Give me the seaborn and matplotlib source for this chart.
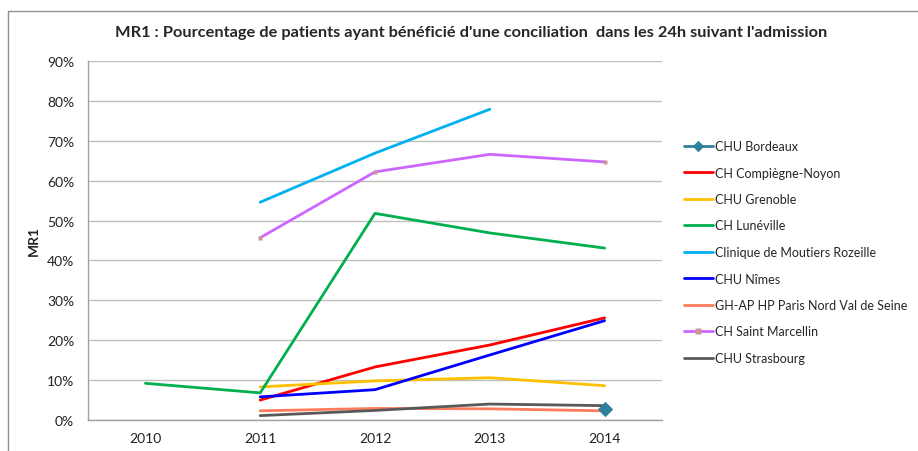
import numpy as np
import pandas as pd
import matplotlib
matplotlib.use("Agg")
from matplotlib import pyplot as plt
from matplotlib.ticker import PercentFormatter
from matplotlib.lines import Line2D
import seaborn as sns

years = ["2010", "2011", "2012", "2013", "2014"]

bordeaux = [np.nan, np.nan, np.nan, np.nan, 0.028]
compiegne = [np.nan, 0.050, 0.133, 0.188, 0.256]
grenoble = [np.nan, 0.083, 0.098, 0.106, 0.086]
luneville = [0.092, 0.068, 0.518, 0.469, 0.431]
moutiers = [np.nan, 0.546, 0.669, 0.779, np.nan]
nimes = [np.nan, 0.058, 0.076, 0.163, 0.249]
paris_nord = [np.nan, 0.023, 0.029, 0.028, 0.023]
marcellin = [np.nan, 0.457, 0.622, 0.666, 0.647]
strasbourg = [np.nan, 0.011, 0.024, 0.040, 0.036]

names = ["CHU Bordeaux", "CH Compiègne-Noyon", "CHU Grenoble", "CH Lunéville",
         "Clinique de Moutiers Rozeille", "CHU Nîmes",
         "GH-AP HP Paris Nord Val de Seine", "CH Saint Marcellin", "CHU Strasbourg"]
series = [bordeaux, compiegne, grenoble, luneville, moutiers, nimes,
          paris_nord, marcellin, strasbourg]
colors = ["#31809A", "#FF0000", "#FFC000", "#00B050", "#00B0F0", "#0000FF",
          "#FF7C5C", "#CC66FF", "#595959"]

sns.set_theme(style="white")
plt.rcParams["font.family"] = ["Lato", "DejaVu Sans"]

fig = plt.figure(figsize=(9.18, 4.52), dpi=100)
ax = fig.add_axes([88 / 918, 1 - 421 / 452, (662 - 88) / 918, (421 - 62) / 452])

for name, vals, col in zip(names, series, colors):
    df = pd.DataFrame({"year": np.arange(len(years)), "value": vals}).dropna()
    kw = dict(color=col, linewidth=2.0, label=name)
    if name == "CHU Bordeaux":
        kw.update(marker="D", markersize=7, markeredgecolor=col, zorder=10)
    elif name == "CH Saint Marcellin":
        kw.update(marker="s", markersize=3.5, markerfacecolor="#C8969A",
                  markeredgecolor="none", markevery=[0, 1, 3])
    sns.lineplot(data=df, x="year", y="value", ax=ax, **kw)

ax.set_xlim(-0.5, 4.5)
ax.set_ylim(0, 0.9)
ax.set_xticks(range(len(years)))
ax.set_xticklabels(years)
ax.set_yticks(np.arange(0, 0.91, 0.1))
ax.yaxis.set_major_formatter(PercentFormatter(1.0, decimals=0))
ax.tick_params(axis="both", length=0, labelsize=10, colors="#222222")
ax.tick_params(axis="y", pad=10)
ax.tick_params(axis="x", pad=9)
ax.grid(axis="y", color="#BFBFBF", linewidth=1)
ax.set_axisbelow(True)
for s in ["top", "right"]:
    ax.spines[s].set_visible(False)
for s in ["left", "bottom"]:
    ax.spines[s].set_color("#A0A0A0")
    ax.spines[s].set_linewidth(1)
ax.set_xlabel("")
ax.set_ylabel("MR1", fontsize=10, fontweight="bold", labelpad=5)

leg = ax.legend(loc="upper left", bbox_to_anchor=(684 / 918, 1 - 141 / 452),
                bbox_transform=fig.transFigure, frameon=False, fontsize=9,
                handlelength=2.3, handletextpad=0.2, labelspacing=1.16,
                borderaxespad=0, borderpad=0)
for h in leg.get_lines():
    h.set_markersize(5)

fig.suptitle("MR1 : Pourcentage de patients ayant bénéficié d'une conciliation  dans les 24h suivant l'admission",
             x=471 / 918, y=1 - 33 / 452, va="center", fontsize=11.8, fontweight="bold")

# chart frame (cropped at right and bottom)
fig.add_artist(Line2D([8 / 918, 1], [1 - 12 / 452] * 2, transform=fig.transFigure,
                      color="#909090", linewidth=1))
fig.add_artist(Line2D([8 / 918] * 2, [0, 1 - 12 / 452], transform=fig.transFigure,
                      color="#909090", linewidth=1))

fig.savefig("out.png", dpi=100)
